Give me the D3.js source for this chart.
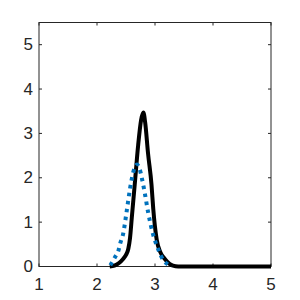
<!DOCTYPE html>
<html>
<head>
<meta charset="utf-8">
<script src="https://d3js.org/d3.v7.min.js"></script>
<style>
    body { margin: 0; background: #fff; }
    .tick-label { font-family: "Liberation Sans", Arial, sans-serif; font-size: 17px; fill: #262626; }
</style>
</head>
<body>
<div id="density-plot"></div>
<script>
// values
let xTicks = [1, 2, 3, 4, 5];
let yTicks = [0, 1, 2, 3, 4, 5];

let solidX = [2.22, 2.30, 2.38, 2.45, 2.50, 2.54, 2.57, 2.60, 2.65, 2.71, 2.76, 2.80, 2.83, 2.88, 2.94, 2.97, 3.03, 3.09, 3.17, 3.25, 3.31, 3.40, 5.00];
let solidY = [0.00, 0.02, 0.08, 0.17, 0.26, 0.40, 0.65, 1.10, 1.84, 2.74, 3.30, 3.47, 3.25, 2.55, 1.84, 1.30, 0.60, 0.33, 0.17, 0.06, 0.02, 0.00, 0.00];

let dottedX = [2.23, 2.31, 2.37, 2.40, 2.45, 2.51, 2.57, 2.63, 2.69, 2.73, 2.78, 2.83, 2.88, 2.97, 3.06, 3.14, 3.22, 3.29];
let dottedY = [0.03, 0.21, 0.36, 0.52, 0.73, 1.23, 1.76, 2.15, 2.30, 2.22, 1.95, 1.61, 1.23, 0.71, 0.37, 0.15, 0.05, 0.00];

function DensityPlot(){
    let self = this;
    self.init();
};

DensityPlot.prototype.init = function(){
    let self = this;
    self.svgWidth = 300;
    self.svgHeight = 300;
    self.margin = {top: 22.5, right: 29, bottom: 33.5, left: 39};

    self.svg = d3.select("#density-plot").html("").append("svg")
        .attr("width", self.svgWidth)
        .attr("height", self.svgHeight);

    self.x = d3.scaleLinear()
        .domain([1, 5])
        .range([self.margin.left, self.svgWidth - self.margin.right]);

    self.y = d3.scaleLinear()
        .domain([0, 5.5])
        .range([self.svgHeight - self.margin.bottom, self.margin.top]);

    self.drawAxes();
    self.drawCurves();
};

DensityPlot.prototype.drawAxes = function(){
    let self = this;
    let x0 = self.x.range()[0], x1 = self.x.range()[1];
    let y0 = self.y.range()[0], y1 = self.y.range()[1];
    let axisColor = "#262626";
    let tl = 3;

    let g = self.svg.append("g");

    // ticks on all four sides, pointing inward
    xTicks.forEach(function(t){
        g.append("line").attr("x1", self.x(t)).attr("x2", self.x(t))
            .attr("y1", y0).attr("y2", y0 - tl).attr("stroke", axisColor);
        g.append("line").attr("x1", self.x(t)).attr("x2", self.x(t))
            .attr("y1", y1).attr("y2", y1 + tl).attr("stroke", axisColor);
        g.append("text").attr("class", "tick-label")
            .attr("x", self.x(t)).attr("y", y0 + 23.5)
            .attr("text-anchor", "middle")
            .text(t);
    });

    yTicks.forEach(function(t){
        g.append("line").attr("x1", x0).attr("x2", x0 + tl)
            .attr("y1", self.y(t)).attr("y2", self.y(t)).attr("stroke", axisColor);
        g.append("line").attr("x1", x1).attr("x2", x1 - tl)
            .attr("y1", self.y(t)).attr("y2", self.y(t)).attr("stroke", axisColor);
        g.append("text").attr("class", "tick-label")
            .attr("x", x0 - 6).attr("y", self.y(t))
            .attr("text-anchor", "end")
            .attr("dominant-baseline", "central")
            .text(t);
    });

    g.append("rect")
        .attr("x", x0).attr("y", y1)
        .attr("width", x1 - x0).attr("height", y0 - y1)
        .attr("fill", "none")
        .attr("stroke", axisColor)
        .attr("stroke-width", 1);
};

DensityPlot.prototype.drawCurves = function(){
    let self = this;

    let line = d3.line()
        .x((d) => self.x(d[0]))
        .y((d) => self.y(d[1]))
        .curve(d3.curveMonotoneX);

    self.svg.append("path")
        .datum(d3.zip(solidX, solidY))
        .attr("fill", "none")
        .attr("stroke", "#000000")
        .attr("stroke-width", 4)
        .attr("stroke-linejoin", "round")
        .attr("d", line);

    self.svg.append("path")
        .datum(d3.zip(dottedX, dottedY))
        .attr("fill", "none")
        .attr("stroke", "#0072BD")
        .attr("stroke-width", 4)
        .attr("stroke-dasharray", "3.5,4.5")
        .attr("d", line);
};

new DensityPlot();
</script>
</body>
</html>
